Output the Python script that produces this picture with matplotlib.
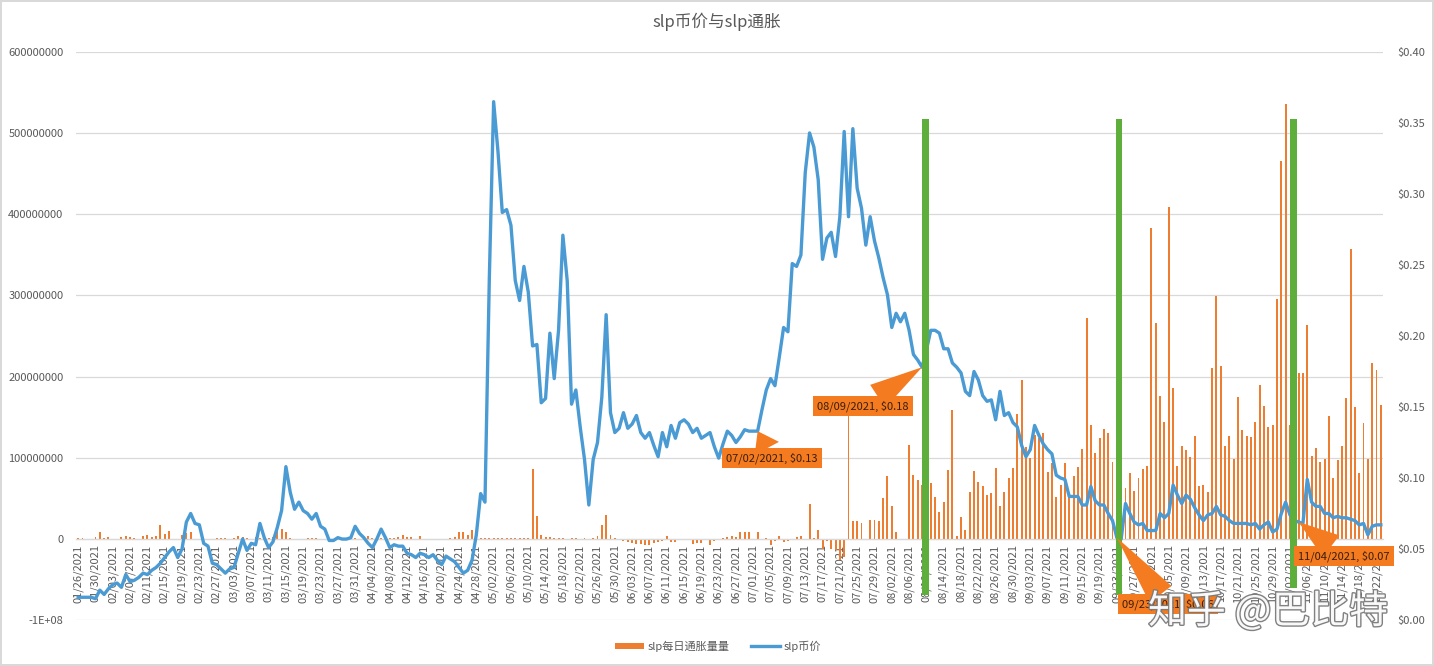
import matplotlib
matplotlib.use('Agg')
import matplotlib.pyplot as plt
import numpy as np
import pandas as pd
from matplotlib.patches import Rectangle, Patch
from matplotlib.lines import Line2D
import matplotlib.patheffects as pe

plt.rcParams['font.family'] = ['Noto Sans CJK SC', 'DejaVu Sans']

# ---------------- data ----------------
start_date = '2021-01-26'

# daily SLP inflation (millions of SLP)
inflation_m = [
    1, 1, 0, 0, 2, 8, 1, 2, 0, 0,
    2, 4, 2, 1, 0, 3, 5, 2, 4, 17,
    6, 10, 0, 0, 5, 7, 8, 0, 0, 0,
    0, 0, 1, 1, 1, 0, 1, 3, 2, 1,
    0, 2, 1, 0, 1, 2, 13, 12, 8, 1,
    0, 0, 0, 1, 1, 1, 0, 0, 0, 0,
    0, 0, 0, 0, 1, 0, 1, 3, 1, 0,
    1, 0, 1, 1, 2, 5, 2, 2, 0, 4,
    0, 0, 0, 0, 0, 0, 1, 2, 8, 9,
    5, 11, 1, 1, 1, 1, 1, 1, 1, 1,
    1, 1, 1, 1, 1, 86, 28, 5, 2, 2,
    1, 1, 1, 0, 1, 1, 0, 1, -1, 1,
    3, 17, 30, 5, 1, -1, -3, -4, -5, -6,
    -6, -8, -7, -5, -4, -3, 3, -4, -4, 0,
    -1, -2, -6, -5, -5, 0, -8, -3, 0, 1,
    2, 3, 2, 8, 8, 8, 0, 8, 0, 1,
    -8, -3, 4, -4, -3, 0, 2, 3, 0, 43,
    1, 11, -12, -3, -12, -14, -26, -22, 151, 22,
    22, 19, 0, 23, 23, 22, 50, 77, 41, 9,
    -1, -1, 116, 79, 73, 66, 60, 69, 52, 33,
    45, 85, 159, 3, 27, 11, 58, 84, 70, 65,
    54, 56, 87, 41, 58, 75, 87, 154, 196, 113,
    100, 128, 124, 130, 83, 94, 52, 66, 94, 52,
    78, 89, 111, 272, 140, 106, 124, 135, 131, 95,
    60, 60, 63, 81, 59, 75, 86, 90, 383, 266,
    176, 144, 409, 186, 90, 115, 110, 101, 127, 65,
    66, 58, 211, 299, 213, 115, 127, 99, 175, 134,
    127, 125, 144, 190, 164, 138, 140, 296, 466, 536,
    140, 130, 204, 204, 264, 102, 112, 95, 99, 151,
    75, 97, 115, 174, 357, 163, 81, 143, 98, 217,
    208, 165,
]

# SLP price (USD)
price = [
    .016, .016, .016, .016, .015, .021, .018, .022, .025, .026,
    .023, .032, .027, .028, .030, .033, .032, .035, .037, .040,
    .044, .048, .051, .044, .050, .069, .075, .068, .067, .054,
    .052, .040, .039, .036, .033, .036, .037, .047, .057, .049,
    .054, .053, .068, .058, .051, .055, .065, .077, .108, .090,
    .078, .083, .077, .075, .071, .075, .066, .064, .056, .056,
    .058, .057, .057, .058, .066, .061, .058, .054, .051, .057,
    .064, .058, .051, .053, .052, .052, .047, .046, .044, .047,
    .046, .044, .046, .042, .039, .045, .043, .041, .037, .033,
    .035, .042, .060, .089, .083, .240, .365, .330, .287, .289,
    .278, .239, .225, .249, .231, .193, .194, .153, .156, .202,
    .170, .204, .271, .239, .152, .162, .136, .113, .081, .113,
    .125, .157, .215, .146, .132, .135, .146, .135, .138, .144,
    .132, .128, .132, .123, .115, .132, .122, .137, .128, .139,
    .141, .138, .132, .135, .128, .130, .132, .122, .114, .124,
    .133, .130, .125, .129, .134, .133, .133, .133, .148, .162,
    .170, .165, .185, .206, .203, .251, .249, .257, .315, .343,
    .333, .310, .254, .269, .273, .256, .284, .344, .284, .346,
    .304, .290, .264, .284, .267, .255, .241, .229, .206, .216,
    .210, .216, .204, .187, .183, .178, .190, .204, .204, .202,
    .191, .191, .181, .178, .174, .161, .158, .175, .169, .158,
    .154, .155, .141, .161, .144, .146, .139, .136, .123, .115,
    .120, .137, .130, .124, .120, .117, .102, .100, .099, .087,
    .087, .087, .081, .081, .094, .084, .081, .081, .075, .070,
    .058, .057, .082, .075, .069, .067, .068, .063, .063, .063,
    .075, .072, .075, .095, .088, .082, .088, .085, .079, .074,
    .070, .074, .075, .080, .074, .073, .070, .068, .068, .068,
    .068, .067, .068, .064, .067, .069, .062, .064, .075, .083,
    .074, .070, .069, .068, .099, .083, .080, .080, .075, .075,
    .072, .073, .072, .072, .071, .070, .067, .068, .060, .066,
    .067, .067,
]

series_names = ['slp每日通胀量量', 'slp币价']
title = 'slp币价与slp通胀'
callout_dates = ['2021-07-02', '2021-08-09', '2021-09-23', '2021-11-04']
left_tick_values = [-1e8, 0, 1e8, 2e8, 3e8, 4e8, 5e8, 6e8]
left_tick_labels = ['-1E+08', '0', '100000000', '200000000', '300000000',
                    '400000000', '500000000', '600000000']
right_tick_values = [0, 0.05, 0.10, 0.15, 0.20, 0.25, 0.30, 0.35, 0.40]

dates = pd.date_range(start_date, periods=len(price))
tick_labels = [d.strftime('%m/%d/%Y') for d in dates[::4]]

# ---------------- style ----------------
ORANGE = '#ED7D31'
CALLOUT = '#F47B20'
BLUE = '#4A9AD4'
GREEN = '#5DAE3B'
GRAY = '#595959'
GRID = '#D9D9D9'

W, H = 1434, 666
fig = plt.figure(figsize=(W / 100, H / 100), dpi=100)
fig.patch.set_edgecolor(GRID)
fig.patch.set_linewidth(1.5)
rect = [76 / W, 1 - 620 / H, (1383 - 76) / W, (620 - 52) / H]
ax = fig.add_axes(rect)

x = np.arange(len(price))
ax.bar(x, np.array(inflation_m) * 1e6, width=0.45, color=ORANGE, zorder=2)
ax.set_xlim(-0.5, len(price) - 0.5)
ax.set_ylim(-1e8, 6e8)
ax.set_yticks(left_tick_values)
ax.set_yticklabels(left_tick_labels)
ax.grid(axis='y', color=GRID, lw=0.9, zorder=0)
ax.set_axisbelow(True)
for s in ['top', 'right', 'left']:
    ax.spines[s].set_visible(False)
ax.spines['bottom'].set_position(('data', 0))
ax.spines['bottom'].set_color(GRID)
ax.spines['bottom'].set_linewidth(0.9)
ax.set_xticks(x[::4])
ax.set_xticklabels(tick_labels, rotation=90, fontsize=8, color=GRAY)
ax.tick_params(axis='x', length=0, pad=4)
ax.tick_params(axis='y', length=0, labelsize=8, labelcolor=GRAY, pad=9)

ax2 = ax.twinx()
ax2.set_ylim(0, 0.4)
ax2.set_yticks(right_tick_values)
ax2.set_yticklabels([f'${v:.2f}' for v in right_tick_values])
ax2.tick_params(axis='y', length=0, labelsize=8, labelcolor=GRAY, pad=10)
for s in ['top', 'right', 'left', 'bottom']:
    ax2.spines[s].set_visible(False)
ax2.plot(x, price, color=BLUE, lw=2.4, solid_joinstyle='round', zorder=3)

# green marker bars (drawn shapes)
green_pos = [195.8, 240.5, 280.8]
green_bottom = [-69e6, -69e6, -60e6]
for gp, gb in zip(green_pos, green_bottom):
    ax2.add_patch(Rectangle((gp - 0.8, gb), 1.6, 518e6 - gb, transform=ax.transData,
                            facecolor=GREEN, edgecolor='none', zorder=5, clip_on=False))

# data callouts
callout_text_pos = [(772, 208), (863, 260), (1168, 62), (1344, 110)]
for cd, (tx, ty) in zip(callout_dates, callout_text_pos):
    i = int((pd.Timestamp(cd) - dates[0]).days)
    ax2.annotate(f'{pd.Timestamp(cd):%m/%d/%Y}, ${price[i]:.2f}',
                 xy=(i, price[i]), xycoords='data',
                 xytext=(tx, ty), textcoords='figure pixels',
                 ha='center', va='center', fontsize=8, color='#3A1E0A',
                 bbox=dict(boxstyle='square,pad=0.35', fc=CALLOUT, ec='none'),
                 arrowprops=dict(arrowstyle='wedge,tail_width=0.9,shrink_factor=0.5',
                                 mutation_scale=22, fc=CALLOUT, ec='none',
                                 shrinkA=0, shrinkB=0),
                 zorder=6, annotation_clip=False)

# title
fig.text(0.5, 1 - 22 / H, title, ha='center', va='center', fontsize=12, color=GRAY)

# legend
handles = [Patch(facecolor=ORANGE, edgecolor='none'),
           Line2D([0], [0], color=BLUE, lw=2.4)]
fig.legend(handles, series_names, loc='center', bbox_to_anchor=(718 / W, 1 - 646 / H),
           ncol=2, frameon=False, fontsize=8, labelcolor=GRAY,
           handlelength=2.6, handleheight=0.5, columnspacing=2.0, handletextpad=0.3)

# watermark
fig.text(1268 / W, 1 - 612 / H, '知乎 @巴比特', ha='center', va='center',
         fontsize=28, color='white', alpha=0.95, zorder=10,
         path_effects=[pe.withStroke(linewidth=2, foreground='#7A7A7A')])

fig.savefig('out.png', dpi=100)
